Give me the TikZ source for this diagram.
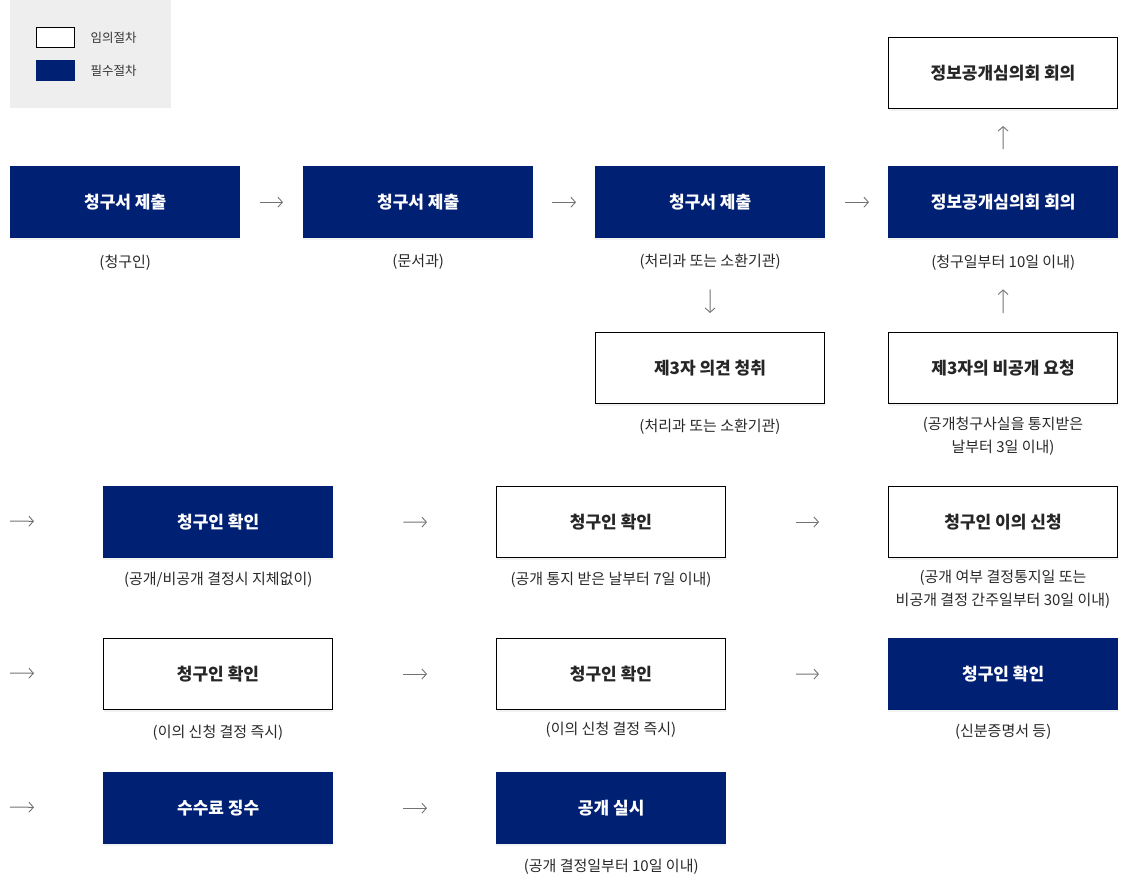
\documentclass[tikz,border=0pt]{standalone}
\usepackage{fontspec}
\setmainfont{Noto Sans CJK KR}
\usetikzlibrary{arrows.meta,shadows}
\definecolor{navy}{RGB}{0,32,115}
\definecolor{legendbg}{RGB}{238,238,238}
\definecolor{arrowgray}{RGB}{115,115,115}
\definecolor{captxt}{RGB}{40,40,40}
\begin{document}
\begin{tikzpicture}[x=1pt,y=-1pt,
  boxbase/.style={minimum width=230pt,minimum height=72pt,inner sep=0pt,anchor=north west,
    font=\fontsize{17}{20}\selectfont\bfseries,
    drop shadow={opacity=0.10,shadow xshift=0pt,shadow yshift=-2pt}},
  navybox/.style={boxbase,fill=navy,text=white},
  whitebox/.style={boxbase,minimum width=229pt,minimum height=71pt,fill=white,draw=black,line width=1pt,text=black!85},
  captext/.style={font=\fontsize{15}{20}\selectfont,text=captxt,align=center,anchor=north},
  flow/.style={draw=arrowgray,line width=1pt,-{Straight Barb[length=4.5pt,width=10pt,line width=0.9pt]}},
  legtxt/.style={font=\fontsize{12.5}{14}\selectfont,text=black!80,anchor=west}]
\useasboundingbox (0,0) rectangle (1129,881);
% legend
\node[fill=legendbg,minimum width=161pt,minimum height=108pt,inner sep=0pt,anchor=north west] (legend) at (10,0) {};
\node[draw=black,line width=1pt,fill=white,minimum width=38pt,minimum height=20pt,inner sep=0pt,anchor=north west] (legw) at (36,27) {};
\node[fill=navy,minimum width=39pt,minimum height=21pt,inner sep=0pt,anchor=north west] (legn) at (36,60) {};
\node[legtxt] (legwt) at (87,38) {임의절차};
\node[legtxt] (legnt) at (87,71) {필수절차};
% top box
\node[whitebox] (top) at (888,37) {정보공개심의회 회의};
% row 1
\node[navybox] (a1) at (10,166) {청구서 제출};
\node[navybox] (a2) at (303,166) {청구서 제출};
\node[navybox] (a3) at (595,166) {청구서 제출};
\node[navybox] (a4) at (888,166) {정보공개심의회 회의};
\node[captext] (ca1) at (a1.south |- 0,251) {(청구인)};
\node[captext] (ca2) at (a2.south |- 0,251) {(문서과)};
\node[captext] (ca3) at (a3.south |- 0,251) {(처리과 또는 소환기관)};
\node[captext] (ca4) at (a4.south |- 0,251) {(청구일부터 10일 이내)};
% row 2
\node[whitebox] (d1) at (595,332) {제3자 의견 청취};
\node[whitebox] (d2) at (888,332) {제3자의 비공개 요청};
\node[captext] (cd1) at (d1.south |- 0,416) {(처리과 또는 소환기관)};
\node[captext,font=\fontsize{15}{23}\selectfont] (cd2) at (d2.south |- 0,413) {(공개청구사실을 통지받은\\날부터 3일 이내)};
% row 3
\coordinate (s3) at (10,521);
\node[navybox] (b1) at (103,486) {청구인 확인};
\node[whitebox] (b2) at (496,486) {청구인 확인};
\node[whitebox] (b3) at (888,486) {청구인 이의 신청};
\node[captext] (cb1) at (b1.south |- 0,569) {(공개/비공개 결정시 지체없이)};
\node[captext] (cb2) at (b2.south |- 0,569) {(공개 통지 받은 날부터 7일 이내)};
\node[captext,font=\fontsize{15}{23}\selectfont] (cb3) at (b3.south |- 0,567) {(공개 여부 결정통지일 또는\\비공개 결정 간주일부터 30일 이내)};
% row 4
\coordinate (s4) at (10,673);
\node[whitebox] (e1) at (103,638) {청구인 확인};
\node[whitebox] (e2) at (496,638) {청구인 확인};
\node[navybox] (e3) at (888,638) {청구인 확인};
\node[captext] (ce1) at (e1.south |- 0,721) {(이의 신청 결정 즉시)};
\node[captext] (ce2) at (e2.south |- 0,718) {(이의 신청 결정 즉시)};
\node[captext] (ce3) at (e3.south |- 0,721) {(신분증명서 등)};
% row 5
\coordinate (s5) at (10,807);
\node[navybox] (f1) at (103,772) {수수료 징수};
\node[navybox] (f2) at (496,772) {공개 실시};
\node[captext] (cf2) at (f2.south |- 0,856) {(공개 결정일부터 10일 이내)};
% arrows row 1
\draw[flow,shorten <=20pt,shorten >=20pt] (a1.east) -- (a2.west);
\draw[flow,shorten <=19pt,shorten >=19pt] (a2.east) -- (a3.west);
\draw[flow,shorten <=20pt,shorten >=19pt] (a3.east) -- (a4.west);
% vertical arrows
\draw[flow,shorten <=17pt,shorten >=17pt] (a4.north) -- (top.south);
\draw[flow,shorten <=51pt,shorten >=19pt] (a3.south) -- (d1.north);
\draw[flow,shorten <=19pt,shorten >=51pt] (d2.north) -- (a4.south);
% rows 3-5
\foreach \s/\x/\y/\z in {s3/b1/b2/b3,s4/e1/e2/e3}{
  \draw[flow,shorten >=69pt] (\s) -- (\x.west);
  \draw[flow,shorten <=70pt,shorten >=69pt] (\x.east) -- (\y.west);
  \draw[flow,shorten <=70pt,shorten >=69pt] (\y.east) -- (\z.west);
}
\draw[flow,shorten >=69pt] (s5) -- (f1.west);
\draw[flow,shorten <=70pt,shorten >=69pt] (f1.east) -- (f2.west);
\end{tikzpicture}
\end{document}
